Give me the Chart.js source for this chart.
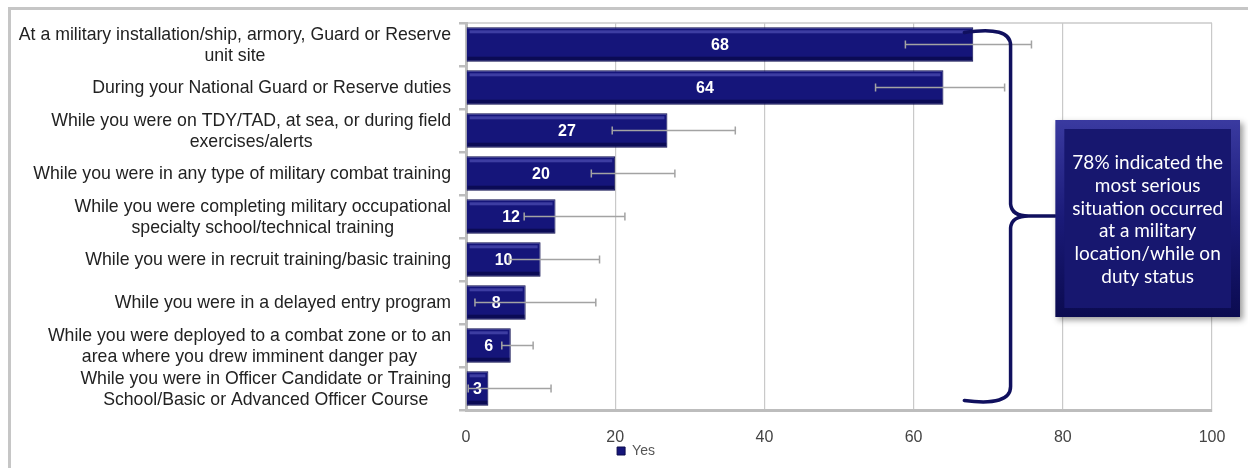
<!DOCTYPE html>
<html>
<head>
<meta charset="utf-8">
<script src="https://cdn.jsdelivr.net/npm/chart.js@4.4.1/dist/chart.umd.min.js"></script>
<style>
  html, body { margin: 0; padding: 0; background: #fff; }
</style>
</head>
<body>
<canvas id="myChart" width="1248" height="468"></canvas>
<script>
// kategorier (flere linjer per etikett)
const kategorier = [
  ["At a military installation/ship, armory, Guard or Reserve", "unit site"],
  ["During your National Guard or Reserve duties"],
  ["While you were on TDY/TAD, at sea, or during field", "exercises/alerts"],
  ["While you were in any type of military combat training"],
  ["While you were completing military occupational", "specialty school/technical training"],
  ["While you were in recruit training/basic training"],
  ["While you were in a delayed entry program"],
  ["While you were deployed to a combat zone or to an", "area where you drew imminent danger pay"],
  ["While you were in Officer Candidate or Training", "School/Basic or Advanced Officer Course"]
];

// prosent "Yes"
const verdier = [68, 64, 27, 20, 12, 10, 8, 6, 3];

// feilmarginer (nedre og øvre grense)
const feilLav = [58.9, 54.9, 19.6, 16.8, 7.8, 5.8, 1.2, 4.8, 0.3];
const feilHoy = [75.8, 72.2, 36.1, 28.0, 21.3, 17.9, 17.4, 9.0, 11.4];

const xTicks = [0, 20, 40, 60, 80, 100];

const boksTekst = ["78% indicated the", "most serious", "situation occurred", "at a military", "location/while on", "duty status"];


// ramme rundt hele diagrammet + topplinje for plottet
const rammePlugin = {
  id: 'ramme',
  beforeDraw(chart) {
    const ctx = chart.ctx;
    const a = chart.chartArea;
    ctx.save();
    ctx.fillStyle = '#fff';
    ctx.fillRect(0, 0, chart.width, chart.height);
    ctx.strokeStyle = '#c6c6c6';
    ctx.lineWidth = 3;
    ctx.strokeRect(9.5, 8.5, chart.width + 10, chart.height + 10);
    ctx.lineWidth = 1.5;
    ctx.strokeStyle = '#cacaca';
    ctx.beginPath();
    ctx.moveTo(a.left, a.top);
    ctx.lineTo(a.right, a.top);
    ctx.stroke();
    ctx.restore();
  }
};

// skygge på stolpene, tall og feilstreker
const stolpePlugin = {
  id: 'stolper',
  afterDatasetsDraw(chart) {
    const ctx = chart.ctx;
    const x = chart.scales.x;
    const meta = chart.getDatasetMeta(0);
    ctx.save();
    meta.data.forEach((bar, i) => {
      const venstre = bar.base;
      const hoyre = bar.x;
      const topp = bar.y - bar.height / 2;
      const bunn = bar.y + bar.height / 2;
      // lys stripe øverst
      ctx.fillStyle = 'rgba(110,110,210,0.45)';
      ctx.fillRect(venstre + 3, topp + 3, Math.max(0, hoyre - venstre - 6), 3);
      // mørk kant nederst
      ctx.fillStyle = 'rgba(0,0,40,0.45)';
      ctx.fillRect(venstre + 1, bunn - 5, Math.max(0, hoyre - venstre - 2), 4);
    });

    // tallene
    ctx.font = 'bold 16px "Liberation Sans", Arial, sans-serif';
    ctx.fillStyle = '#fff';
    ctx.textAlign = 'center';
    ctx.textBaseline = 'middle';
    meta.data.forEach((bar, i) => {
      ctx.fillText(String(verdier[i]), (bar.x + bar.base) / 2, bar.y + 1);
    });

    // feilstreker
    ctx.strokeStyle = '#a3a3a3';
    ctx.lineWidth = 1.5;
    meta.data.forEach((bar, i) => {
      const x1 = x.getPixelForValue(feilLav[i]);
      const x2 = x.getPixelForValue(feilHoy[i]);
      const yy = bar.y;
      ctx.beginPath();
      ctx.moveTo(x1, yy); ctx.lineTo(x2, yy);
      ctx.moveTo(x1, yy - 4); ctx.lineTo(x1, yy + 4);
      ctx.moveTo(x2, yy - 4); ctx.lineTo(x2, yy + 4);
      ctx.stroke();
    });
    ctx.restore();
  }
};

// kategoritekst, sentrert linje for linje og høyrejustert mot aksen
const etikettPlugin = {
  id: 'etiketter',
  afterDraw(chart) {
    const ctx = chart.ctx;
    const y = chart.scales.y;
    ctx.save();
    ctx.font = '17.7px "Liberation Sans", Arial, sans-serif';
    ctx.fillStyle = '#222';
    ctx.textAlign = 'center';
    ctx.textBaseline = 'middle';
    const hoyreKant = chart.chartArea.left - 15;
    chart.data.labels.forEach((linjer, i) => {
      const maks = Math.max(...linjer.map(l => ctx.measureText(l).width));
      const midt = hoyreKant - maks / 2;
      const yp = y.getPixelForTick(i);
      linjer.forEach((l, j) => {
        ctx.fillText(l, midt, yp + 1 + (j - (linjer.length - 1) / 2) * 20.5);
      });
    });
    ctx.restore();
  }
};

// klamme og boks med tekst
const klammePlugin = {
  id: 'klamme',
  afterDraw(chart) {
    const ctx = chart.ctx;
    const x = chart.scales.x;
    const y = chart.scales.y;
    const topp = y.getPixelForTick(0) - 15;
    const bunn = y.getPixelForTick(kategorier.length - 1) + 14;
    const midt = (topp + bunn) / 2;
    const xl = x.getPixelForValue(66.8);
    const xb = x.getPixelForValue(73);
    const boksV = x.getPixelForValue(79);
    const boksH = 1240;
    const boksT = midt - 96;
    const boksB = midt + 101;

    ctx.save();
    ctx.strokeStyle = '#10105e';
    ctx.lineWidth = 3.5;
    ctx.lineCap = 'round';
    ctx.beginPath();
    ctx.moveTo(xl, topp + 3);
    ctx.quadraticCurveTo(xb, topp - 4, xb, topp + 16);
    ctx.lineTo(xb, midt - 12);
    ctx.quadraticCurveTo(xb + 1, midt, xb + 18, midt);
    ctx.lineTo(boksV, midt);
    ctx.moveTo(xb + 18, midt);
    ctx.quadraticCurveTo(xb + 1, midt, xb, midt + 12);
    ctx.lineTo(xb, bunn - 16);
    ctx.quadraticCurveTo(xb, bunn + 4, xl, bunn - 2);
    ctx.stroke();

    // boks med skygge
    ctx.shadowColor = 'rgba(0,0,0,0.4)';
    ctx.shadowBlur = 6;
    ctx.shadowOffsetX = 3;
    ctx.shadowOffsetY = 3;
    const g = ctx.createLinearGradient(0, boksT, 0, boksB);
    g.addColorStop(0, '#3a3aa0');
    g.addColorStop(0.5, '#1a1a78');
    g.addColorStop(1, '#0b0b50');
    ctx.fillStyle = g;
    ctx.fillRect(boksV, boksT, boksH - boksV, boksB - boksT);
    ctx.shadowColor = 'transparent';
    ctx.fillStyle = '#17176f';
    ctx.fillRect(boksV + 9, boksT + 9, boksH - boksV - 18, boksB - boksT - 18);

    ctx.font = '19px Lato, "Open Sans", sans-serif';
    ctx.fillStyle = '#fff';
    ctx.textAlign = 'center';
    ctx.textBaseline = 'middle';
    const cx = (boksV + boksH) / 2;
    boksTekst.forEach((l, j) => {
      ctx.fillText(l, cx, midt + 4 + (j - (boksTekst.length - 1) / 2) * 22.7);
    });
    ctx.restore();
  }
};


const ctx = document.getElementById('myChart');

new Chart(ctx, {
  type: 'bar',
  data: {
    labels: kategorier,
    datasets: [{
      label: 'Yes',
      data: verdier,
      backgroundColor: '#15157a',
      borderColor: '#0b0b4d',
      borderWidth: 1,
      barPercentage: 0.8,
      categoryPercentage: 1
    }]
  },
  options: {
    indexAxis: 'y',
    responsive: false,
    animation: false,
    layout: { padding: { top: 23, right: 36, left: 60, bottom: 0 } },
    scales: {
      x: {
        min: 0,
        max: 100,
        afterBuildTicks(scale) {
          scale.ticks = xTicks.map(v => ({ value: v }));
        },
        ticks: {
          color: '#444',
          padding: 18,
          font: { size: 16, family: '"Liberation Sans", Arial, sans-serif' }
        },
        grid: { color: '#c9c9c9', lineWidth: 1.2, drawTicks: false },
        border: { color: '#bdbdbd', width: 3 },
        afterFit(scale) { scale.height = 34; }
      },
      y: {
        ticks: { display: false },
        grid: { drawOnChartArea: false, tickLength: 7, color: '#bdbdbd', lineWidth: 2.5 },
        border: { color: '#bdbdbd', width: 3 },
        afterFit(scale) { scale.width = 406; }
      }
    },
    plugins: {
      legend: {
        position: 'bottom',
        labels: {
          boxWidth: 8,
          boxHeight: 8,
          padding: 0,
          color: '#555',
          font: { size: 14, family: '"Liberation Sans", Arial, sans-serif' }
        }
      },
      tooltip: { enabled: false }
    }
  },
  plugins: [rammePlugin, stolpePlugin, etikettPlugin, klammePlugin]
});
</script>
</body>
</html>
